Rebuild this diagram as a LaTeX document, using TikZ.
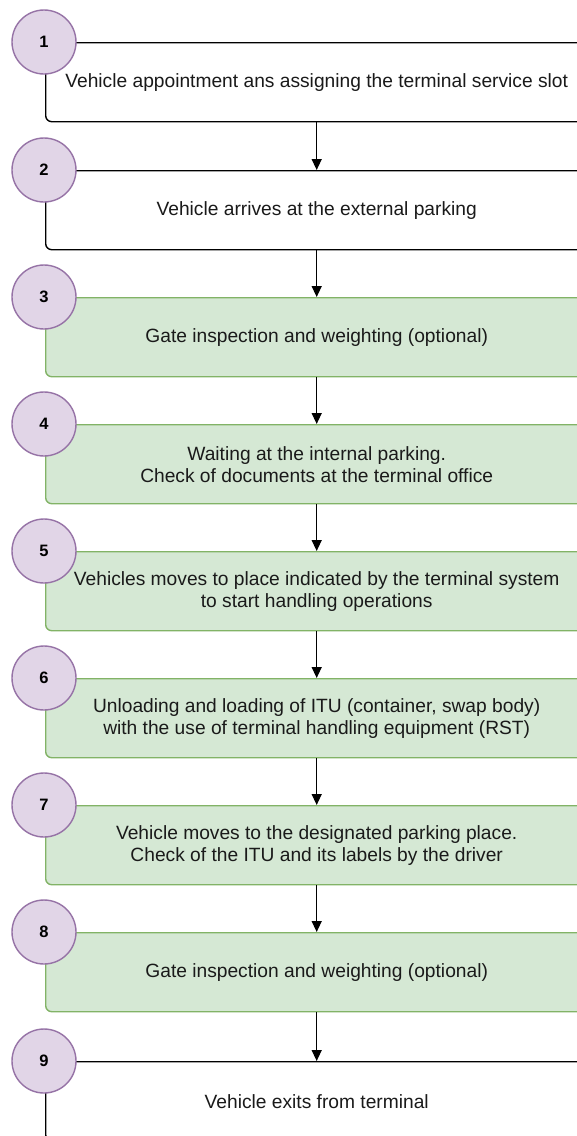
\documentclass[tikz,border=0pt]{standalone}
\usepackage{fontspec}
\setmainfont{Liberation Sans}
\usetikzlibrary{arrows.meta}
\definecolor{numfill}{HTML}{E1D5E7}
\definecolor{numdraw}{HTML}{9673A6}
\definecolor{gfill}{HTML}{D5E8D4}
\definecolor{gdraw}{HTML}{82B366}
\definecolor{txt}{HTML}{1A1A1A}
\tikzset{
  base/.style={rectangle, rounded corners=6pt, minimum width=542pt, minimum height=79pt,
    anchor=north west, line width=1.4pt, align=center, inner sep=0pt, text=txt,
    font=\fontsize{19.2}{22}\selectfont},
  wbox/.style={base, draw=black, fill=white},
  gbox/.style={base, draw=gdraw, fill=gfill},
  num/.style={circle, minimum size=64pt, inner sep=0pt, draw=numdraw, fill=numfill,
    line width=1.4pt, font=\fontsize{16.5}{18}\selectfont\bfseries},
  arr/.style={line width=1.4pt, -{Triangle[length=11pt,width=10pt]}}
}
\begin{document}
\begin{tikzpicture}[x=1pt,y=-1pt]
\useasboundingbox (0,0) rectangle (577,1136);
\clip (0,0) rectangle (577,1136);
\fill[white] (0,0) rectangle (577,1136);
\node[wbox] (b1) at (45,42) {Vehicle appointment ans assigning the terminal service slot};
\node[wbox] (b2) at (45,170) {Vehicle arrives at the external parking};
\node[gbox] (b3) at (45,297) {Gate inspection and weighting (optional)};
\node[gbox] (b4) at (45,424) {Waiting at the internal parking.\\Check of documents at the terminal office};
\node[gbox] (b5) at (45,551) {Vehicles moves to place indicated by the terminal system\\to start handling operations};
\node[gbox] (b6) at (45,678) {Unloading and loading of ITU (container, swap body)\\with the use of terminal handling equipment (RST)};
\node[gbox] (b7) at (45,805) {Vehicle moves to the designated parking place.\\Check of the ITU and its labels by the driver};
\node[gbox] (b8) at (45,932) {Gate inspection and weighting (optional)};
\node[wbox] (b9) at (45,1061) {Vehicle exits from terminal};
\foreach \i/\y in {1/42,2/170,3/297,4/424,5/551,6/678,7/805,8/932,9/1061}
  \node[num] (n\i) at (44,\y) {\i};
\foreach \a/\b in {1/2,2/3,3/4,4/5,5/6,6/7,7/8,8/9}
  \draw[arr] (b\a.south) -- (b\b.north);
\end{tikzpicture}
\end{document}
